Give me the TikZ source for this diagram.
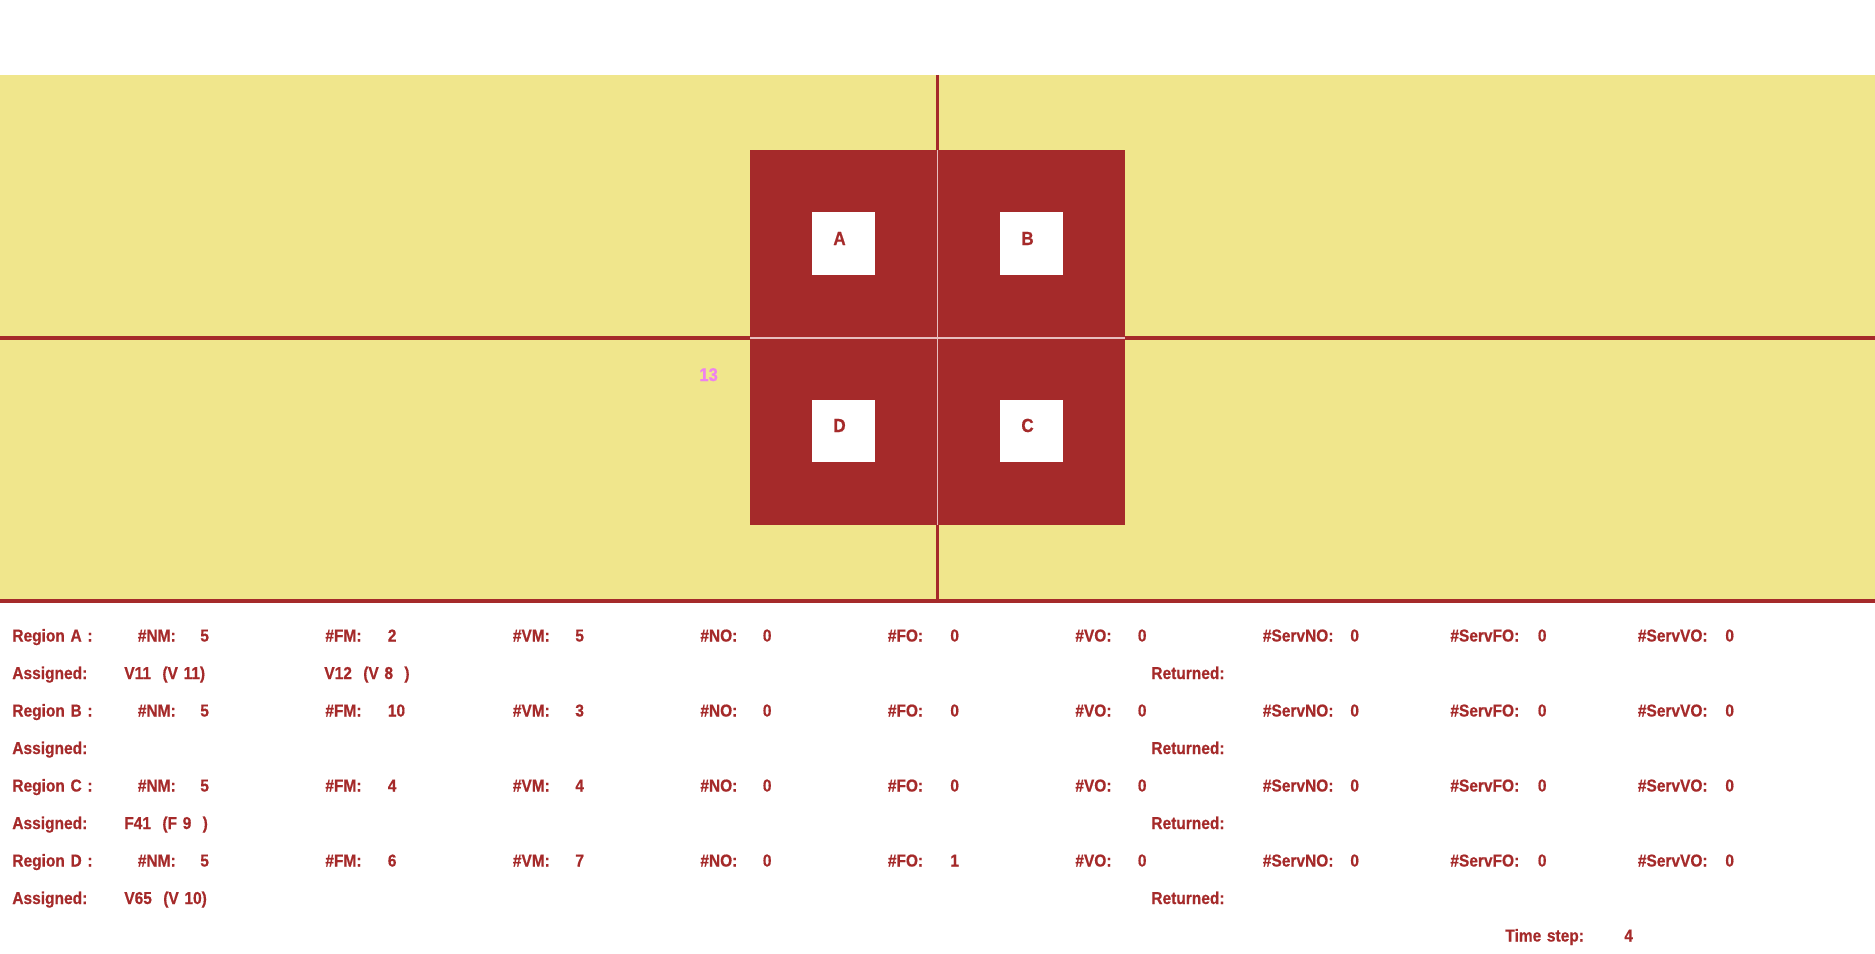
\documentclass[tikz,border=0pt]{standalone}
\usepackage{fontspec}
\setmainfont{Liberation Sans}[FakeStretch=0.9,BoldFeatures={FakeBold=0.6}]
\usepackage{tikz}
\usetikzlibrary{positioning}

\definecolor{brownred}{HTML}{A52A2A}
\definecolor{khaki}{HTML}{F0E68C}
\definecolor{violetpink}{HTML}{EE82EE}
\definecolor{seamcol}{RGB}{232,190,190}
\newcommand\widegaps{\spaceskip=0.33em\relax}

\begin{document}
\begin{tikzpicture}[x=0.02cm,y=-0.02cm,
    txt/.style={anchor=base west,inner sep=0pt,text=brownred,font=\bfseries\fontsize{9.8}{11}\selectfont\widegaps},
    cell/.style={fill=white,minimum size=1.26cm,inner sep=0pt},
    divider/.style={draw=brownred,line width=2pt},
    seam/.style={draw=seamcol,line width=0.8pt}]
  \useasboundingbox (0,0) rectangle (1875,953);
  % field
  \fill[khaki] (0,75) rectangle (1875,600);
  \draw[divider] (0,338) -- (1875,338);
  \draw[divider] (937.5,75) -- (937.5,600);
  \draw[divider] (0,601) -- (1875,601);
  % block with the four regions
  \fill[brownred] (750,150) rectangle (1125,525);
  \draw[seam] (750,338) -- (1125,338);
  \draw[seam] (937.5,150) -- (937.5,525);
  \node[cell] (A) at (843.5,243.5) {};
  \node[cell] (B) at (1031,243.5) {};
  \node[cell] (D) at (843.5,431) {};
  \node[cell] (C) at (1031,431) {};
  \node[txt,font=\bfseries\fontsize{10.8}{12}\selectfont] (labA) at (833,245) {A};
  \node[txt,font=\bfseries\fontsize{10.8}{12}\selectfont] (labB) at (1021,245) {B};
  \node[txt,font=\bfseries\fontsize{10.8}{12}\selectfont] (labD) at (833,432) {D};
  \node[txt,font=\bfseries\fontsize{10.8}{12}\selectfont] (labC) at (1021,432) {C};
  \node[txt,text=violetpink,font=\bfseries\fontsize{10.5}{12}\selectfont] (count) at (699,381) {13};
  % statistics
  \foreach \r/\y/\nm/\fm/\vm/\fo in {A/641.5/5/2/5/0, B/716.5/5/10/3/0, C/791.5/5/4/4/0, D/866.5/5/6/7/1} {
    \node[txt] (reg\r) at (12,\y) {Region \r\ :};
    \foreach \lab/\val [count=\i from 0] in {NM/\nm, FM/\fm, VM/\vm, NO/0, FO/\fo, VO/0} {
      \node[txt] (\lab\r) at (137.5+187.5*\i,\y) {\#\lab:};
      \node[txt] (\lab v\r) at (200+187.5*\i,\y) {\val};
    }
    \foreach \lab [count=\i from 0] in {NO, FO, VO} {
      \node[txt] (Serv\lab\r) at (1262.5+187.5*\i,\y) {\#Serv\lab:};
      \node[txt] (Serv\lab v\r) at (1350+187.5*\i,\y) {0};
    }
    \node[txt] (asg\r) at (12,\y+37.5) {Assigned:};
    \node[txt] (ret\r) at (1151,\y+37.5) {Returned:};
  }
  \node[txt] (asgA1) at (124,679) {V11~~(V~11)};
  \node[txt] (asgA2) at (324,679) {V12~~(V~8~~)};
  \node[txt] (asgC1) at (124,829) {F41~~(F~9~~)};
  \node[txt] (asgD1) at (124,904) {V65~~(V~10)};
  \node[txt] (tstep) at (1505,941.5) {Time step:};
  \node[txt] (tval) at (1624,941.5) {4};
\end{tikzpicture}
\end{document}
